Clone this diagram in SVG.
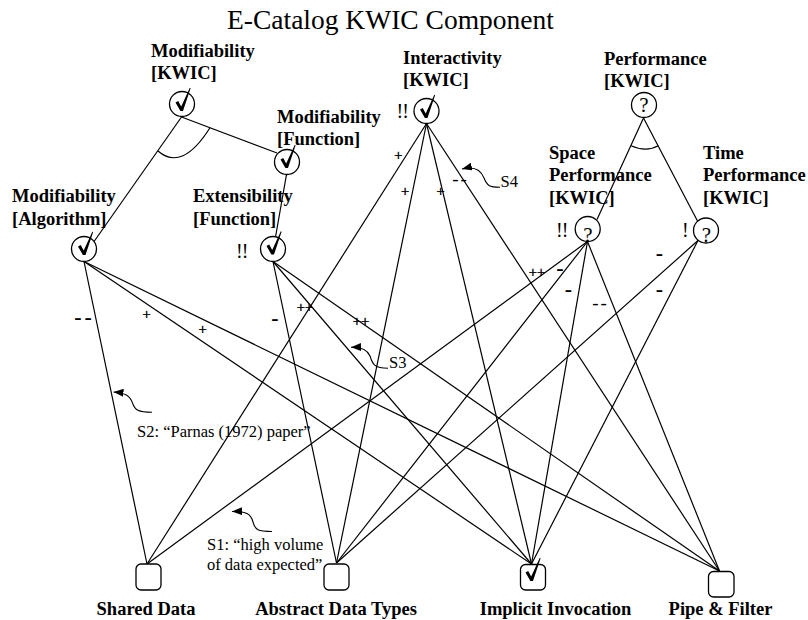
<svg xmlns="http://www.w3.org/2000/svg" xmlns:xlink="http://www.w3.org/1999/xlink" width="808" height="620" viewBox="0 0 808 620" font-family="'Liberation Serif', 'Times New Roman', Times, 'DejaVu Serif', serif">
  <style>
    text { font-family: 'Liberation Serif', 'Times New Roman', Times, 'DejaVu Serif', serif; fill: #000; }
    .title { font-size: 27.5px; }
    .lbl { font-size: 18.5px; font-weight: bold; }
    .btm { font-size: 18.5px; font-weight: bold; text-anchor: middle; }
    .q { font-size: 21px; text-anchor: middle; }
    .bang { font-size: 20px; letter-spacing: -1px; }
    .pl { font-size: 14.5px; text-anchor: middle; stroke: #000; stroke-width: 0.45; }
    .mn { font-size: 22px; font-weight: bold; text-anchor: middle; letter-spacing: 3px; }
    .mt { font-size: 19px; text-anchor: middle; letter-spacing: 2px; }
    .ann { font-size: 16.5px; }
    .ln { stroke: #000; stroke-width: 1.2; fill: none; }
    .nd { fill: #fff; stroke: #000; stroke-width: 1.3; }
    .sq { stroke: #000; stroke-width: 1.1; fill: none; marker-start: url(#ah); }
  </style>
  <defs>
    <!-- bold check mark with a thin rising tail, drawn around a node centre -->
    <path id="check" d="M-6.5,-2.5 L-3.8,-4 L-0.8,1.5 L7.8,-17.2 L8.6,-16.8 L1,6 L-1.6,6 Z" fill="#000"/>
    <marker id="ah" viewBox="0 0 10 8" refX="10" refY="4" markerWidth="10" markerHeight="8" markerUnits="userSpaceOnUse" orient="auto-start-reverse">
      <path d="M0,0 L10,4 L0,8 Z" fill="#000"/>
    </marker>
  </defs>

  <rect width="808" height="620" fill="#fff"/>

  <text class="title" x="227" y="29">E-Catalog KWIC Component</text>

  <!-- links: decompositions, contributions and their labels -->
  <g id="connectors">
    <!-- AND decompositions -->
    <line class="ln" x1="181.5" y1="117" x2="93" y2="243"/>
    <line class="ln" x1="181.5" y1="117" x2="277" y2="153"/>
    <path class="ln" d="M158,151 Q182,172 210,127.7"/>
    <line class="ln" x1="286.5" y1="174.5" x2="275.5" y2="237"/>
    <line class="ln" x1="643.5" y1="118" x2="597" y2="219.5"/>
    <line class="ln" x1="643.5" y1="118" x2="697.5" y2="221"/>
    <path class="ln" d="M631,145.7 Q646,152.5 658.3,145.7"/>

    <!-- Modifiability [Algorithm] -->
    <line class="ln" x1="84" y1="261.5" x2="147" y2="564"/>
    <line class="ln" x1="84" y1="261.5" x2="531.5" y2="564"/>
    <line class="ln" x1="84" y1="261.5" x2="719.5" y2="571"/>
    <!-- Extensibility [Function] -->
    <line class="ln" x1="273" y1="261.5" x2="336.5" y2="563"/>
    <line class="ln" x1="273" y1="261.5" x2="531.5" y2="564"/>
    <line class="ln" x1="273" y1="261.5" x2="719.5" y2="571"/>
    <!-- Interactivity [KWIC] -->
    <line class="ln" x1="426.5" y1="123.5" x2="147" y2="564"/>
    <line class="ln" x1="426.5" y1="123.5" x2="336.5" y2="563"/>
    <line class="ln" x1="426.5" y1="123.5" x2="531.5" y2="564"/>
    <line class="ln" x1="426.5" y1="123.5" x2="719.5" y2="571"/>
    <!-- Space Performance [KWIC] -->
    <line class="ln" x1="587.5" y1="241.5" x2="147" y2="564"/>
    <line class="ln" x1="587.5" y1="241.5" x2="336.5" y2="563"/>
    <line class="ln" x1="587.5" y1="241.5" x2="531.5" y2="564"/>
    <line class="ln" x1="587.5" y1="241.5" x2="719.5" y2="571"/>
    <!-- Time Performance [KWIC] -->
    <line class="ln" x1="698" y1="240.5" x2="336.5" y2="563"/>
    <line class="ln" x1="698" y1="240.5" x2="531.5" y2="564"/>

    <!-- contribution labels -->
    <text class="mn" x="84.5" y="324">--</text>
    <text class="pl" x="146.7" y="318.5">+</text>
    <text class="pl" x="202.7" y="333.5">+</text>
    <text class="mn" x="276.5" y="324.5">-</text>
    <text class="pl" x="305" y="311.5">++</text>
    <text class="pl" x="361" y="325.5">++</text>
    <text class="pl" x="398.3" y="159.5">+</text>
    <text class="pl" x="405" y="195.5">+</text>
    <text class="pl" x="440.7" y="195.5">+</text>
    <text class="mt" x="460.5" y="184.5">--</text>
    <text class="pl" x="537" y="276.5">++</text>
    <text class="mn" x="561.5" y="275">-</text>
    <text class="mn" x="569.8" y="296">-</text>
    <text class="mt" x="600.5" y="308.8">--</text>
    <text class="mn" x="660.8" y="260">-</text>
    <text class="mn" x="660.8" y="296">-</text>
  </g>

  <!-- softgoals -->
  <g id="mod-kwic">
    <text class="lbl" x="151" y="57">Modifiability</text>
    <text class="lbl" x="151" y="79">[KWIC]</text>
    <circle class="nd" cx="182" cy="104" r="12.5"/>
    <use href="#check" xlink:href="#check" x="182" y="105"/>
  </g>
  <g id="mod-function">
    <text class="lbl" x="277" y="123">Modifiability</text>
    <text class="lbl" x="277" y="145">[Function]</text>
    <circle class="nd" cx="287" cy="162" r="12.5"/>
    <use href="#check" xlink:href="#check" x="287" y="162"/>
  </g>
  <g id="mod-algorithm">
    <text class="lbl" x="12" y="202">Modifiability</text>
    <text class="lbl" x="12" y="224.5">[Algorithm]</text>
    <circle class="nd" cx="84" cy="249" r="12.5"/>
    <use href="#check" xlink:href="#check" x="84.5" y="249"/>
  </g>
  <g id="ext-function">
    <text class="lbl" x="193" y="202">Extensibility</text>
    <text class="lbl" x="193" y="224.5">[Function]</text>
    <text class="bang" x="236" y="258">!!</text>
    <circle class="nd" cx="273" cy="249" r="12.5"/>
    <use href="#check" xlink:href="#check" x="273" y="248.5"/>
  </g>
  <g id="interactivity">
    <text class="lbl" x="403" y="64">Interactivity</text>
    <text class="lbl" x="403" y="86">[KWIC]</text>
    <text class="bang" x="396.5" y="118">!!</text>
    <circle class="nd" cx="426.5" cy="111" r="12.5"/>
    <use href="#check" xlink:href="#check" x="426.5" y="112"/>
  </g>
  <g id="performance">
    <text class="lbl" x="604" y="65">Performance</text>
    <text class="lbl" x="604" y="87">[KWIC]</text>
    <circle class="nd" cx="644" cy="105" r="12.5"/>
    <text class="q" x="644" y="111.7">?</text>
  </g>
  <g id="space-performance">
    <text class="lbl" x="549" y="159">Space</text>
    <text class="lbl" x="549" y="181">Performance</text>
    <text class="lbl" x="549" y="204">[KWIC]</text>
    <text class="bang" x="556" y="236.5">!!</text>
    <circle class="nd" cx="587.7" cy="229" r="12.5"/>
    <text class="q" x="588" y="241.5">?</text>
  </g>
  <g id="time-performance">
    <text class="lbl" x="703" y="159">Time</text>
    <text class="lbl" x="703" y="181">Performance</text>
    <text class="lbl" x="703" y="204">[KWIC]</text>
    <text class="bang" x="682" y="236.5">!</text>
    <circle class="nd" cx="706" cy="230.5" r="12.5"/>
    <text class="q" x="706.5" y="241.7">?</text>
  </g>

  <!-- architectural alternatives -->
  <g id="shared-data">
    <rect class="nd" x="136" y="564" width="25" height="26" rx="5"/>
    <text class="btm" x="146" y="615">Shared Data</text>
  </g>
  <g id="abstract-data-types">
    <rect class="nd" x="324" y="564" width="25" height="26" rx="5"/>
    <text class="btm" x="336" y="615">Abstract Data Types</text>
  </g>
  <g id="implicit-invocation">
    <rect class="nd" x="520.5" y="564.5" width="25" height="25.5" rx="5"/>
    <use href="#check" xlink:href="#check" x="532" y="575"/>
    <text class="btm" x="555.5" y="615">Implicit Invocation</text>
  </g>
  <g id="pipe-filter">
    <rect class="nd" x="708.5" y="571.5" width="25.5" height="25.5" rx="5"/>
    <text class="btm" x="720.5" y="615">Pipe &amp; Filter</text>
  </g>

  <!-- claims -->
  <g id="claims">
    <path class="sq" d="M232,511.5 C246,511 251,514 253,522 C255,530 258,531.5 272,531.5"/>
    <text class="ann" x="207" y="550">S1: “high volume</text>
    <text class="ann" x="207" y="570">of data expected”</text>

    <path class="sq" d="M113.5,392 C126,393 130,396 132.5,403 C135,410 138,412.3 152,412.3"/>
    <text class="ann" x="137" y="436.5">S2: “Parnas (1972) paper”</text>

    <path class="sq" d="M351,347.3 C362,347 367.5,350 370,356 C372.5,364 374,368.3 388,368.3"/>
    <text class="ann" x="389" y="368.3">S3</text>

    <path class="sq" d="M462,169 C474,166 481,170 484,178 C487,185.5 489,187.2 500,187.2"/>
    <text class="ann" x="500.5" y="187.2">S4</text>
  </g>
</svg>
